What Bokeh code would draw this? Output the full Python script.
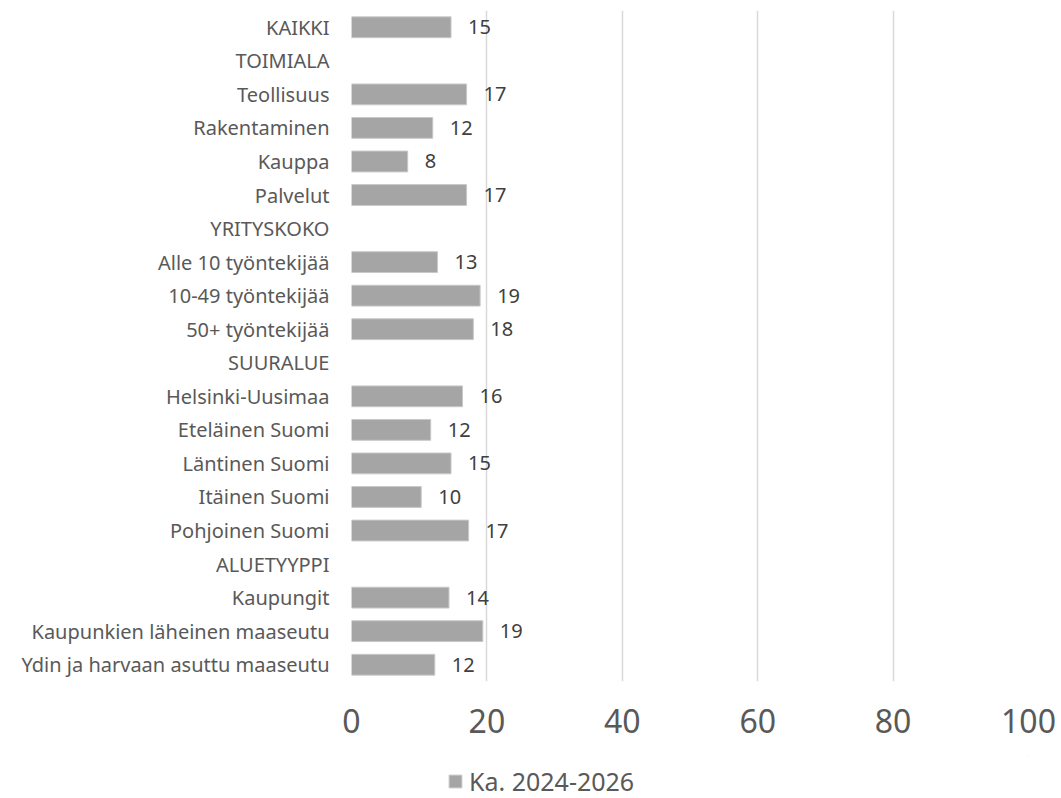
from bokeh.plotting import figure
from bokeh.layouts import column
from bokeh.models import FactorRange, Range1d, FixedTicker, ColumnDataSource, Legend, LegendItem
from bokeh.core.properties import value
from bokeh.embed import file_html
from bokeh.resources import INLINE

categories = [
    "KAIKKI", "TOIMIALA", "Teollisuus", "Rakentaminen", "Kauppa", "Palvelut",
    "YRITYSKOKO", "Alle 10 työntekijää", "10-49 työntekijää", "50+ työntekijää",
    "SUURALUE", "Helsinki-Uusimaa", "Eteläinen Suomi", "Läntinen Suomi",
    "Itäinen Suomi", "Pohjoinen Suomi", "ALUETYYPPI", "Kaupungit",
    "Kaupunkien läheinen maaseutu", "Ydin ja harvaan asuttu maaseutu",
]
values = [
    14.7, None, 17.0, 12.0, 8.3, 17.0,
    None, 12.7, 19.0, 18.0,
    None, 16.4, 11.7, 14.7,
    10.3, 17.3, None, 14.4,
    19.4, 12.3,
]
series_name = "Ka. 2024-2026"
x_ticks = [0, 20, 40, 60, 80, 100]

FONT = "Noto Sans"
TXT = "#595959"
BAR = "#a5a5a5"

bar_cats = [c for c, v in zip(categories, values) if v is not None]
bar_vals = [v for v in values if v is not None]
bar_labels = [str(int(round(v))) for v in bar_vals]
src = ColumnDataSource(dict(cat=bar_cats, val=bar_vals, lab=bar_labels))

p = figure(
    width=1061, height=756,
    y_range=FactorRange(factors=list(reversed(categories))),
    x_range=Range1d(0, 100),
    output_backend="svg", toolbar_location=None,
    min_border_left=351, min_border_right=33, min_border_top=10, min_border_bottom=75,
)
p.outline_line_color = None
p.background_fill_color = "white"
p.border_fill_color = "white"

p.hbar(y="cat", right="val", left=0, height=0.62, source=src,
       fill_color=BAR, line_color="#c8c8c8", line_width=1)

p.text(x="val", y="cat", text="lab", source=src, x_offset=17,
       text_baseline="middle", text_align="left",
       text_font=value(FONT), text_font_size="20px", text_color="#404040")

p.xgrid.grid_line_color = "#d9d9d9"
p.xgrid.grid_line_width = 1.5
p.ygrid.grid_line_color = None

p.xaxis.ticker = FixedTicker(ticks=x_ticks)
p.xaxis.axis_line_color = None
p.xaxis.major_tick_line_color = None
p.xaxis.minor_tick_line_color = None
p.xaxis.major_tick_out = 0
p.xaxis.major_tick_in = 0
p.xaxis.major_label_text_font = FONT
p.xaxis.major_label_text_font_size = "32px"
p.xaxis.major_label_text_color = TXT
p.xaxis.major_label_standoff = 27

p.yaxis.axis_line_color = None
p.yaxis.major_tick_line_color = None
p.yaxis.minor_tick_line_color = None
p.yaxis.major_tick_out = 0
p.yaxis.major_tick_in = 0
p.yaxis.major_label_text_font = FONT
p.yaxis.major_label_text_font_size = "20px"
p.yaxis.major_label_text_color = TXT
p.yaxis.major_label_standoff = 22

# legend strip below the chart (its frame is aligned with the chart's frame)
lf = figure(width=1061, height=42, x_range=Range1d(0, 1), y_range=Range1d(0, 1),
            x_axis_type=None, y_axis_type=None,
            output_backend="svg", toolbar_location=None,
            min_border=0)
lf.outline_line_color = None
lf.grid.grid_line_color = None
lf.background_fill_color = "white"
lf.border_fill_color = "white"
# one off-screen bar, only so the legend swatch has a glyph to draw
swatch = lf.hbar(y=[5], right=[5], left=[4], height=0.5,
                 fill_color=BAR, line_color="#c8c8c8", line_width=1)
legend = Legend(items=[LegendItem(label=series_name, renderers=[swatch])],
                location=(96, 0), orientation="horizontal",
                border_line_color=None, background_fill_alpha=0,
                padding=0, margin=0, spacing=0,
                glyph_width=16, glyph_height=16, label_standoff=6,
                label_text_font=FONT, label_text_font_size="25px",
                label_text_color=TXT)
lf.add_layout(legend)

layout = column(p, lf, spacing=0)
open("out.html", "w").write(file_html(layout, INLINE))
